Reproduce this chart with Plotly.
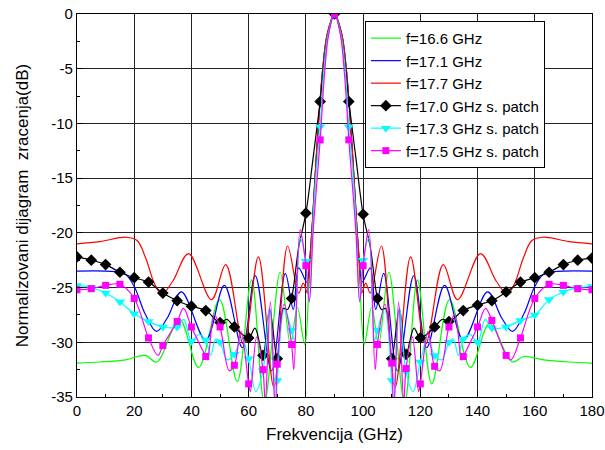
import plotly.graph_objects as go

# ---------------- data ----------------
# f=16.6 GHz
g_x = [0, 8, 17, 23.8, 27.9, 35.8, 42.5, 49.8, 56, 61, 65.5, 71, 74.6, 77, 79.6, 81.2, 82.3, 83.3, 84.4, 85.9, 87.5, 90,
       92.5, 94.1, 95.6, 96.7, 97.7, 98.8, 100.4, 103, 105.4, 109, 114.5, 119, 124, 130.2, 137.5, 144.2, 152.1, 156.2, 163, 172, 180]
g_y = [-31.9, -31.8, -31.6, -31.2, -31.8, -27.9, -32.3, -26.1, -33.6, -24.3, -35.5, -23.6, -30.2, -26.8, -30.2, -24, -19, -14.5, -10, -5, -1.8, 0,
       -1.8, -5, -10, -14.5, -19, -24, -30.2, -26.8, -30.2, -23.6, -35.5, -24.3, -33.8, -26.1, -32.3, -28.3, -31.8, -31.3, -31.6, -31.8, -31.9]

# f=17.1 GHz
b_x = [0, 10, 16.5, 20, 23.8, 27.8, 31.5, 36.5, 45, 51.5, 57.8, 62.3, 68, 72.8, 75.6, 77.5, 80.3, 81.3, 82.3, 83.3, 84.4, 85.9, 87.5, 90,
       92.5, 94.1, 95.6, 96.7, 97.7, 98.7, 99.7, 102.5, 104.4, 107.2, 112, 117.7, 122.2, 128.5, 135, 143.5, 148.5, 152.2, 156.2, 160, 163.5, 170, 180]
b_y = [-23.5, -23.5, -23.7, -24.9, -27.4, -29.0, -27.8, -25.4, -29.8, -24.8, -30.5, -23.9, -32.6, -23.7, -27.0, -23.2, -24.5, -22.5, -19, -14.5, -10, -5, -1.8, 0,
       -1.8, -5, -10, -14.5, -19, -22.5, -24.5, -23.2, -27.0, -23.7, -32.6, -23.9, -30.5, -24.8, -29.8, -25.4, -27.8, -29.0, -27.4, -24.9, -23.7, -23.5, -23.5]

# f=17.7 GHz
r_x = [0, 8, 17.2, 21, 24, 27, 29.6, 33.5, 39, 47, 52, 58.2, 63.4, 68.8, 73.6, 77.5, 79.1, 80.5, 81.4, 82.3, 83.3, 84.4, 85.9, 87.5, 90,
       92.5, 94.1, 95.6, 96.7, 97.7, 98.6, 99.5, 100.9, 102.5, 106.4, 111.2, 116.6, 121.8, 128, 133, 141, 146.5, 150.4, 153, 156, 159, 162.8, 172, 180]
r_y = [-21.0, -20.8, -20.4, -20.7, -22.3, -24.6, -25.6, -24.4, -21.9, -26.1, -22.9, -30.2, -22.2, -34.1, -21.2, -25.5, -24.6, -25.5, -22.5, -19, -14.5, -10, -5, -1.8, 0,
       -1.8, -5, -10, -14.5, -19, -22.5, -25.5, -24.6, -25.5, -21.2, -34.1, -22.2, -30.2, -22.9, -26.1, -21.9, -24.4, -25.6, -24.6, -22.3, -20.7, -20.4, -20.8, -21.0]

# marker angles for the "s. patch" series
mk_x = [0, 5, 10, 15, 20, 25, 30, 35, 40, 45, 50, 55, 60, 65, 70, 75, 80, 85, 90,
        95, 100, 105, 110, 115, 120, 125, 130, 135, 140, 145, 150, 155, 160, 165, 170, 175, 180]

# f=17.0 GHz s. patch
k_mk = [-22.2, -22.5, -22.9, -23.6, -24.1, -24.5, -25.5, -26.2, -26.7, -27.1, -28.2, -28.6, -29.6, -31.2, -31.5, -26.0, -18.2, -8.0, 0,
        -8.0, -18.3, -26.0, -31.5, -31.1, -29.6, -28.6, -28.1, -27.1, -26.6, -26.2, -25.4, -24.5, -24.1, -23.6, -22.9, -22.5, -22.3]
k_ex_x = [52.3, 62.2, 67.3, 72.2, 73.6, 77.5, 82.5, 87.5, 92.5, 97.5, 102.5, 106.4, 107.8, 112.7, 117.8, 127.7]
k_ex_y = [-27.9, -28.7, -27.0, -26.9, -27.0, -21.3, -13.2, -2.3, -2.3, -13.2, -21.3, -27.0, -26.9, -27.0, -28.7, -27.9]

# f=17.3 GHz s. patch
c_mk = [-24.8, -25.0, -25.5, -26.3, -27.4, -28.1, -28.6, -28.6, -29.9, -29.8, -30.0, -31.1, -31.5, -32.6, -33.5, -28.9, -22.6, -10.3, 0,
        -10.3, -22.5, -28.9, -33.5, -32.7, -31.8, -31.2, -30.0, -29.7, -30.0, -28.7, -28.6, -28.0, -27.5, -26.1, -25.4, -25.0, -24.9]
c_ex_x = [37.3, 42.5, 46.7, 48.5, 52.5, 57.5, 62.5, 67.3, 69.4, 72.5, 76, 78, 81.2, 82.4, 83.6, 86.3, 87.8,
          92.2, 93.7, 96.4, 97.6, 98.8, 102, 104, 107.5, 110.6, 112.7, 117.5, 122.5, 127.5, 131.5, 133.3, 137.5, 142.7]
c_ex_y = [-27.9, -29.3, -31.2, -29.7, -31.6, -29.6, -34.5, -26.8, -36.5, -27.0, -29.8, -20.5, -26.3, -19.5, -14.5, -5, -1.8,
          -1.8, -5, -14.5, -19.5, -26.3, -20.5, -29.8, -27.0, -36.5, -26.8, -34.5, -29.6, -31.6, -29.7, -31.2, -29.3, -27.9]

# f=17.5 GHz s. patch
m_mk = [-25.2, -25.1, -24.8, -24.7, -26.0, -29.6, -30.3, -28.1, -28.6, -31.3, -28.6, -32.1, -33.8, -32.5, -32.0, -30.2, -23.0, -11.5, 0,
        -11.5, -23.0, -30.2, -31.9, -32.4, -33.8, -32.2, -28.6, -31.3, -28.6, -28.0, -31.2, -29.6, -26.0, -24.7, -24.8, -25.1, -25.2]
m_ex_x = [28.3, 37.2, 45.6, 48, 53.2, 57.3, 60.6, 62.8, 65.8, 67.6, 69.3, 72.4, 75.8, 78, 81.2, 82.5, 83.8, 86.5, 88,
          92, 93.5, 96.2, 97.5, 98.8, 102, 104.2, 107.6, 110.7, 112.4, 114.2, 117.2, 119.4, 122.7, 126.8, 132, 134.4, 142.8, 151.7]
m_ex_y = [-31.2, -26.9, -31.6, -27.5, -32.6, -29.0, -34.5, -29.5, -35.5, -26.3, -36.5, -26.5, -32.5, -19.7, -26.3, -20.0, -15.5, -5.5, -1.8,
          -1.8, -5.5, -15.5, -20.0, -26.3, -19.7, -32.5, -26.5, -36.5, -26.3, -35.5, -29.5, -34.5, -29.0, -32.6, -27.5, -31.6, -26.9, -31.6]

x_ticks = [0, 20, 40, 60, 80, 100, 120, 140, 160, 180]
y_ticks = [0, -5, -10, -15, -20, -25, -30, -35]
y_tick_text = ["0", "-5", "-10", "-15", "-20", "-25", "-30", "-35"]


def merge(mx, my, ex, ey):
    pts = sorted(zip(list(mx) + list(ex), list(my) + list(ey)))
    return [p[0] for p in pts], [p[1] for p in pts]


FONT = "Liberation Sans, Arial, sans-serif"
LW = 1.2
fig = go.Figure()

plain = [("f=16.6 GHz", g_x, g_y, "#00ff00"),
         ("f=17.1 GHz", b_x, b_y, "#0000ff"),
         ("f=17.7 GHz", r_x, r_y, "#ff0000")]
for name, xs, ys, col in plain:
    fig.add_trace(go.Scatter(x=xs, y=ys, mode="lines", name=name,
                             line=dict(color=col, width=LW, shape="spline", smoothing=1.0)))

marked = [("f=17.0 GHz s. patch", k_mk, k_ex_x, k_ex_y, "#000000", "diamond", 9),
          ("f=17.3 GHz s. patch", c_mk, c_ex_x, c_ex_y, "#00ffff", "triangle-down", 9),
          ("f=17.5 GHz s. patch", m_mk, m_ex_x, m_ex_y, "#ff00ff", "square", 7)]
for name, mk, ex, ey, col, sym, sz in marked:
    lx, ly = merge(mk_x, mk, ex, ey)
    fig.add_trace(go.Scatter(x=lx, y=ly, mode="lines", showlegend=False, legendgroup=name,
                             line=dict(color=col, width=LW, shape="spline", smoothing=1.0)))
    fig.add_trace(go.Scatter(x=mk_x, y=mk, mode="markers", showlegend=False, legendgroup=name,
                             marker=dict(color=col, symbol=sym, size=sz, line=dict(width=0))))
    fig.add_trace(go.Scatter(x=[None], y=[None], mode="lines+markers", name=name, legendgroup=name,
                             line=dict(color=col, width=LW),
                             marker=dict(color=col, symbol=sym, size=sz, line=dict(width=0))))

axis_common = dict(showline=True, linecolor="black", linewidth=1.2, mirror=True,
                   ticks="inside", ticklen=6, tickcolor="black", automargin=False,
                   ticklabeloverflow="allow",
                   showgrid=True, gridcolor="#222222", gridwidth=1, zeroline=False,
                   tickfont=dict(family=FONT, size=15, color="black"))

fig.update_layout(
    width=605, height=450,
    margin=dict(l=77, r=13, t=14, b=53),
    paper_bgcolor="white", plot_bgcolor="white",
    font=dict(family=FONT, color="black"),
    xaxis=dict(range=[0, 180], tickvals=x_ticks,
               minor=dict(dtick=10, ticks="inside", ticklen=3, tickcolor="black", showgrid=False),
               title=dict(text="Frekvencija (GHz)", font=dict(family=FONT, size=17), standoff=10),
               **axis_common),
    yaxis=dict(range=[-35, 0], tickvals=y_ticks, ticktext=y_tick_text,
               minor=dict(dtick=2.5, ticks="inside", ticklen=3, tickcolor="black", showgrid=False),
               title=dict(text="Normalizovani dijagram  zracenja(dB)", font=dict(family=FONT, size=17), standoff=18),
               **axis_common),
    legend=dict(x=0.559, y=0.982, xanchor="left", yanchor="top",
                bgcolor="white", bordercolor="black", borderwidth=1,
                font=dict(family=FONT, size=15, color="black"),
                tracegroupgap=0, itemwidth=30),
    showlegend=True,
)

# remove the default page margin so the 605x450 figure fills the window exactly
fig.write_html("out.html",
               config={"displayModeBar": False},
               post_script="document.body.style.margin='0';document.body.style.overflow='hidden';")
